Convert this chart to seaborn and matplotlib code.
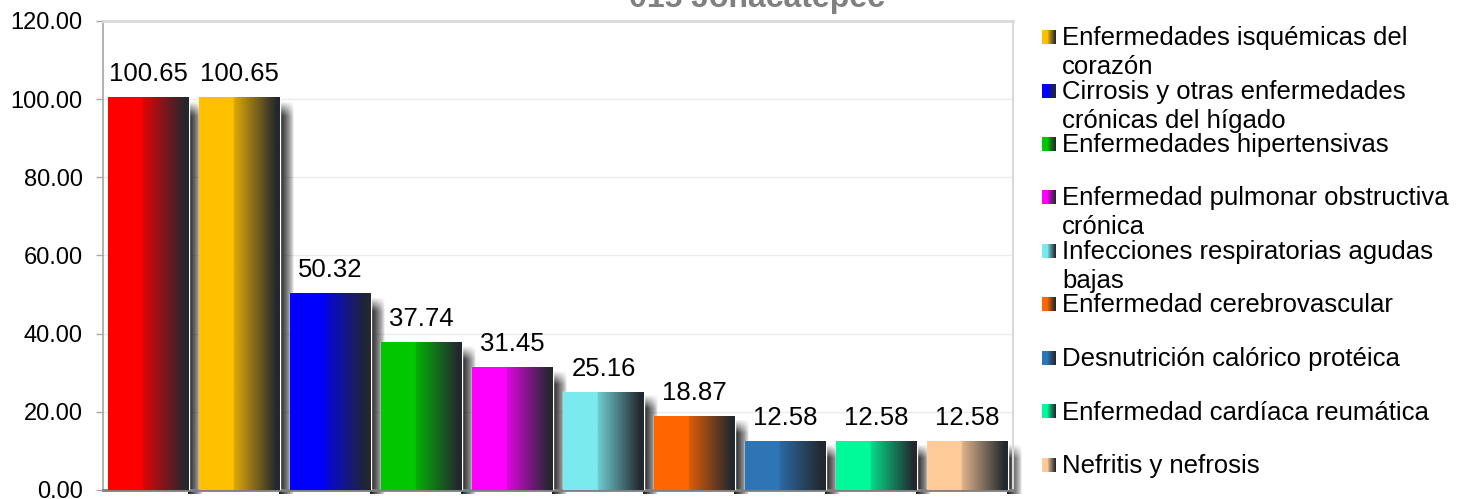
import numpy as np
import matplotlib
matplotlib.use("Agg")
import matplotlib.pyplot as plt
import matplotlib.colors as mcolors
import seaborn as sns

# data (first bar's legend entry is cut off in the source)
causas = ["Diabetes mellitus",
          "Enfermedades isquémicas del\ncorazón",
          "Cirrosis y otras enfermedades\ncrónicas del hígado",
          "Enfermedades hipertensivas",
          "Enfermedad pulmonar obstructiva\ncrónica",
          "Infecciones respiratorias agudas\nbajas",
          "Enfermedad cerebrovascular",
          "Desnutrición calórico protéica",
          "Enfermedad cardíaca reumática",
          "Nefritis y nefrosis"]
tasas = [100.65, 100.65, 50.32, 37.74, 31.45, 25.16, 18.87, 12.58, 12.58, 12.58]
colores = ["#ff0000", "#ffc000", "#0000ff", "#00c800", "#ff00ff",
           "#7aeaee", "#ff6600", "#2e75b6", "#00fa9a", "#ffcc99"]
titulo = "015 Jonacatepec"

sns.set_style("white")
plt.rcParams["font.family"] = ["Liberation Sans", "DejaVu Sans"]
plt.rcParams["text.color"] = "black"

W, H = 1464, 499
fig = plt.figure(figsize=(W / 100, H / 100), dpi=100)
ax = fig.add_axes([103 / W, 1 - 490 / H, 910 / W, 469 / H])

df = {"causa": causas, "tasa": tasas}
sns.barplot(x="causa", y="tasa", hue="causa", data=df, palette=colores,
            legend=False, width=0.89, saturation=1, ax=ax, zorder=3)

DARK = np.array(mcolors.to_rgb("#23272e"))


def gradient(base, n=256):
    base = np.array(mcolors.to_rgb(base))
    t = np.linspace(0, 1, n)
    out = np.zeros((1, n, 3))
    for i, v in enumerate(t):
        if v < 0.43:
            c = base
        elif v < 0.96:
            s = (v - 0.43) / 0.53
            start = base * 0.85 + DARK * 0.15
            c = start * (1 - s) + DARK * s
        else:
            c = DARK
        out[0, i] = c
    return out


# gradient fill + soft drop shadow for every bar
for p in ax.patches:
    x0, w, h = p.get_x(), p.get_width(), p.get_height()
    img = ax.imshow(gradient(p.get_facecolor()), extent=[x0, x0 + w, 0, h],
                    aspect="auto", interpolation="bilinear", zorder=3.5)
    img.set_clip_path(p)
    # shadow
    ny, nx = 80, 40
    sh_top = h - 0.8
    ys = np.linspace(sh_top, -1.0, ny)
    xs = np.linspace(0, 1, nx)
    ax_alpha = np.clip(1 - xs, 0, 1) ** 0.7
    ay_alpha = np.clip((sh_top - ys) / 3.5, 0, 1)
    sh = np.zeros((ny, nx, 4))
    sh[..., :3] = 0.1
    sh[..., 3] = np.outer(ay_alpha, ax_alpha)
    ax.imshow(sh, extent=[x0 + w - 0.01, x0 + w + 0.15, -1.0, sh_top],
              aspect="auto", interpolation="bilinear", zorder=2.5, clip_on=False)

for cont, v in zip(ax.containers, tasas):
    ax.bar_label(cont, labels=[f"{v:.2f}"], padding=8, fontsize=18.5,
                 color="black", zorder=5)

ax.set_xlim(-0.5, len(causas) - 0.5)
ax.set_ylim(0, 120)
ax.set_yticks(np.arange(0, 121, 20))
ax.set_yticklabels([f"{v:.2f}" for v in np.arange(0, 121, 20)])
ax.set_xticks([])
ax.set_xlabel("")
ax.set_ylabel("")
ax.yaxis.grid(True, color="#ebebeb", lw=1)
ax.set_axisbelow(True)
ax.tick_params(axis="y", left=True, length=5, width=1, color="#a6a6a6",
               labelsize=17, pad=9.5, labelcolor="black")
ax.spines["top"].set_color("#d9d9d9")
ax.spines["top"].set_linewidth(2)
ax.spines["right"].set_color("#d9d9d9")
ax.spines["right"].set_linewidth(1.5)
ax.spines["left"].set_color("#a6a6a6")
ax.spines["left"].set_linewidth(1.2)
ax.spines["bottom"].set_color("#7f7f7f")
ax.spines["bottom"].set_linewidth(2)

# title, cut off by the top edge as in the source
fig.text(757 / W, 1 - 7 / H, titulo, ha="center", va="baseline",
         fontsize=23, fontweight="bold", color="#808080")

# legend drawn by hand (first entry is out of view in the source)
lax = fig.add_axes([0, 0, 1, 1], zorder=10)
lax.set_xlim(0, W)
lax.set_ylim(H, 0)
lax.axis("off")
lax.patch.set_alpha(0)
for i, (lab, col) in enumerate(zip(causas[1:], colores[1:])):
    yc = 37 + 53.5 * i
    g = gradient(col)
    lax.imshow(g, extent=[1042, 1056, yc + 7, yc - 7], aspect="auto",
               interpolation="bilinear")
    for j, line in enumerate(lab.split("\n")):
        lax.text(1062, yc + 8 + 29 * j, line, ha="left", va="baseline",
                 fontsize=18.5, color="black")
lax.set_xlim(0, W)
lax.set_ylim(H, 0)

fig.savefig("out.png", dpi=100)
